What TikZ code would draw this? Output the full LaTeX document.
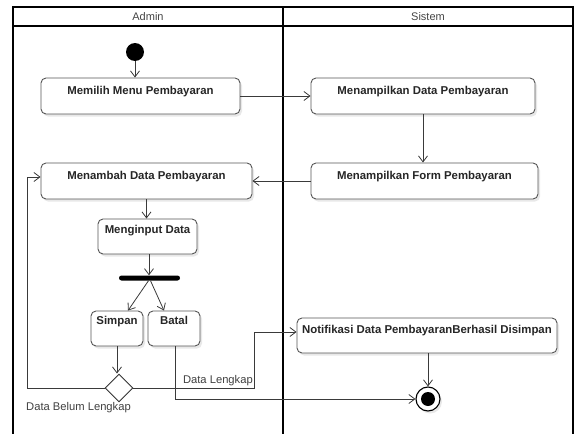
\documentclass[tikz,border=0pt]{standalone}
\usepackage{fontspec}
\setmainfont{Liberation Sans}
\usetikzlibrary{arrows.meta,shadows,shapes.geometric}
\definecolor{boxline}{HTML}{555555}
\definecolor{conn}{HTML}{3A3A3A}
\definecolor{headtext}{HTML}{444444}
\tikzset{
  act/.style={draw=boxline, line width=0.9pt, rounded corners=5pt, fill=white,
    inner xsep=0pt, inner ysep=0pt, align=center,
    font=\bfseries\fontsize{11.4}{13}\selectfont, text=black!85,
    drop shadow={opacity=0.18, shadow xshift=2pt, shadow yshift=-2.5pt}},
  flow/.style={draw=conn, line width=0.8pt, -{Straight Barb[length=6pt,width=9pt]}},
  lane/.style={draw=black, line width=1.5pt},
  head/.style={font=\fontsize{11}{13}\selectfont, text=headtext},
  lbl/.style={font=\fontsize{11.2}{13}\selectfont, text=black!75, inner sep=0pt}
}
\begin{document}
\begin{tikzpicture}[x=1pt,y=-1pt]
\useasboundingbox (0,0) rectangle (574,434);
% swimlanes
\draw[lane] (13,434) -- (13,7) -- (573,7) -- (573,434);
\draw[lane] (283,7) -- (283,434);
\draw[lane] (13,26) -- (573,26);
\node[head] (hadmin) at (148,17) {Admin};
\node[head] (hsistem) at (428,17) {Sistem};
% nodes
\node[circle, fill=black, minimum size=18pt, inner sep=0pt] (start) at (135,52) {};
\node[act, minimum width=199pt, text height=16.5pt, text depth=19.5pt] (memilih) at (140.5,96) {Memilih Menu Pembayaran};
\node[act, minimum width=224pt, text height=16.5pt, text depth=19.5pt] (mdata) at (423,96) {Menampilkan Data Pembayaran};
\node[act, minimum width=211pt, text height=16pt, text depth=20pt] (menambah) at (146.5,181) {Menambah Data Pembayaran};
\node[act, minimum width=227pt, text height=16pt, text depth=20pt] (mform) at (424.5,181) {Menampilkan Form Pembayaran};
\node[act, minimum width=99pt, text height=14pt, text depth=21pt] (menginput) at (147.5,236.5) {Menginput Data};
\node[fill=black, minimum width=61pt, minimum height=5pt, inner sep=0pt, rounded corners=2.5pt] (fork) at (149.5,278) {};
\node[act, minimum width=52pt, text height=13pt, text depth=22pt] (simpan) at (117,328.5) {Simpan};
\node[act, minimum width=52pt, text height=13pt, text depth=22pt] (batal) at (174,328.5) {Batal};
\node[act, minimum width=260pt, text height=15pt, text depth=20pt] (notif) at (427,335.5) {Notifikasi Data PembayaranBerhasil Disimpan};
\node[diamond, draw=black!80, line width=0.9pt, fill=white, minimum width=28pt, minimum height=28pt, inner sep=0pt] (dec) at (119,388) {};
\node[circle, draw=black, line width=1.1pt, fill=white, minimum size=24pt, inner sep=0pt,
  drop shadow={opacity=0.18, shadow xshift=2pt, shadow yshift=-2.5pt}] (end) at (428,399) {};
\node[circle, fill=black, minimum size=14pt, inner sep=0pt] (endin) at (end.center) {};
% labels
\node[lbl, anchor=base east] (ldl) at (253,383.5) {Data Lengkap};
\node[lbl, anchor=base west] (ldbl) at (26,410) {Data Belum Lengkap};
% connectors
\coordinate (lp) at (27,177);
\coordinate (rp) at (254,332);
\draw[flow] (start.south) -- (start.south |- memilih.north);
\draw[flow] (memilih.east) -- (mdata.west);
\draw[flow] (mdata.south) -- (mdata.south |- mform.north);
\draw[flow] (mform.west) -- (menambah.east);
\draw[flow] (menambah.south) -- (menambah.south |- menginput.north);
\draw[flow] ([xshift=1.5pt]menginput.south) -- ([xshift=1.5pt]menginput.south |- fork.north);
\draw[flow] ([xshift=-1pt]fork.south) -- ([xshift=11pt]simpan.north);
\draw[flow] ([xshift=1pt]fork.south) -- ([xshift=-10pt]batal.north);
\draw[flow] (simpan.south) -- (simpan.south |- dec.north);
\draw[flow] (dec.west) -| (lp) -- (lp -| menambah.west);
\draw[flow] (dec.east) -| (rp) -- (rp -| notif.west);
\draw[flow] ([xshift=1pt]batal.south) |- (end.west);
\draw[flow] (end.north |- notif.south) -- (end.north);
\end{tikzpicture}
\end{document}
